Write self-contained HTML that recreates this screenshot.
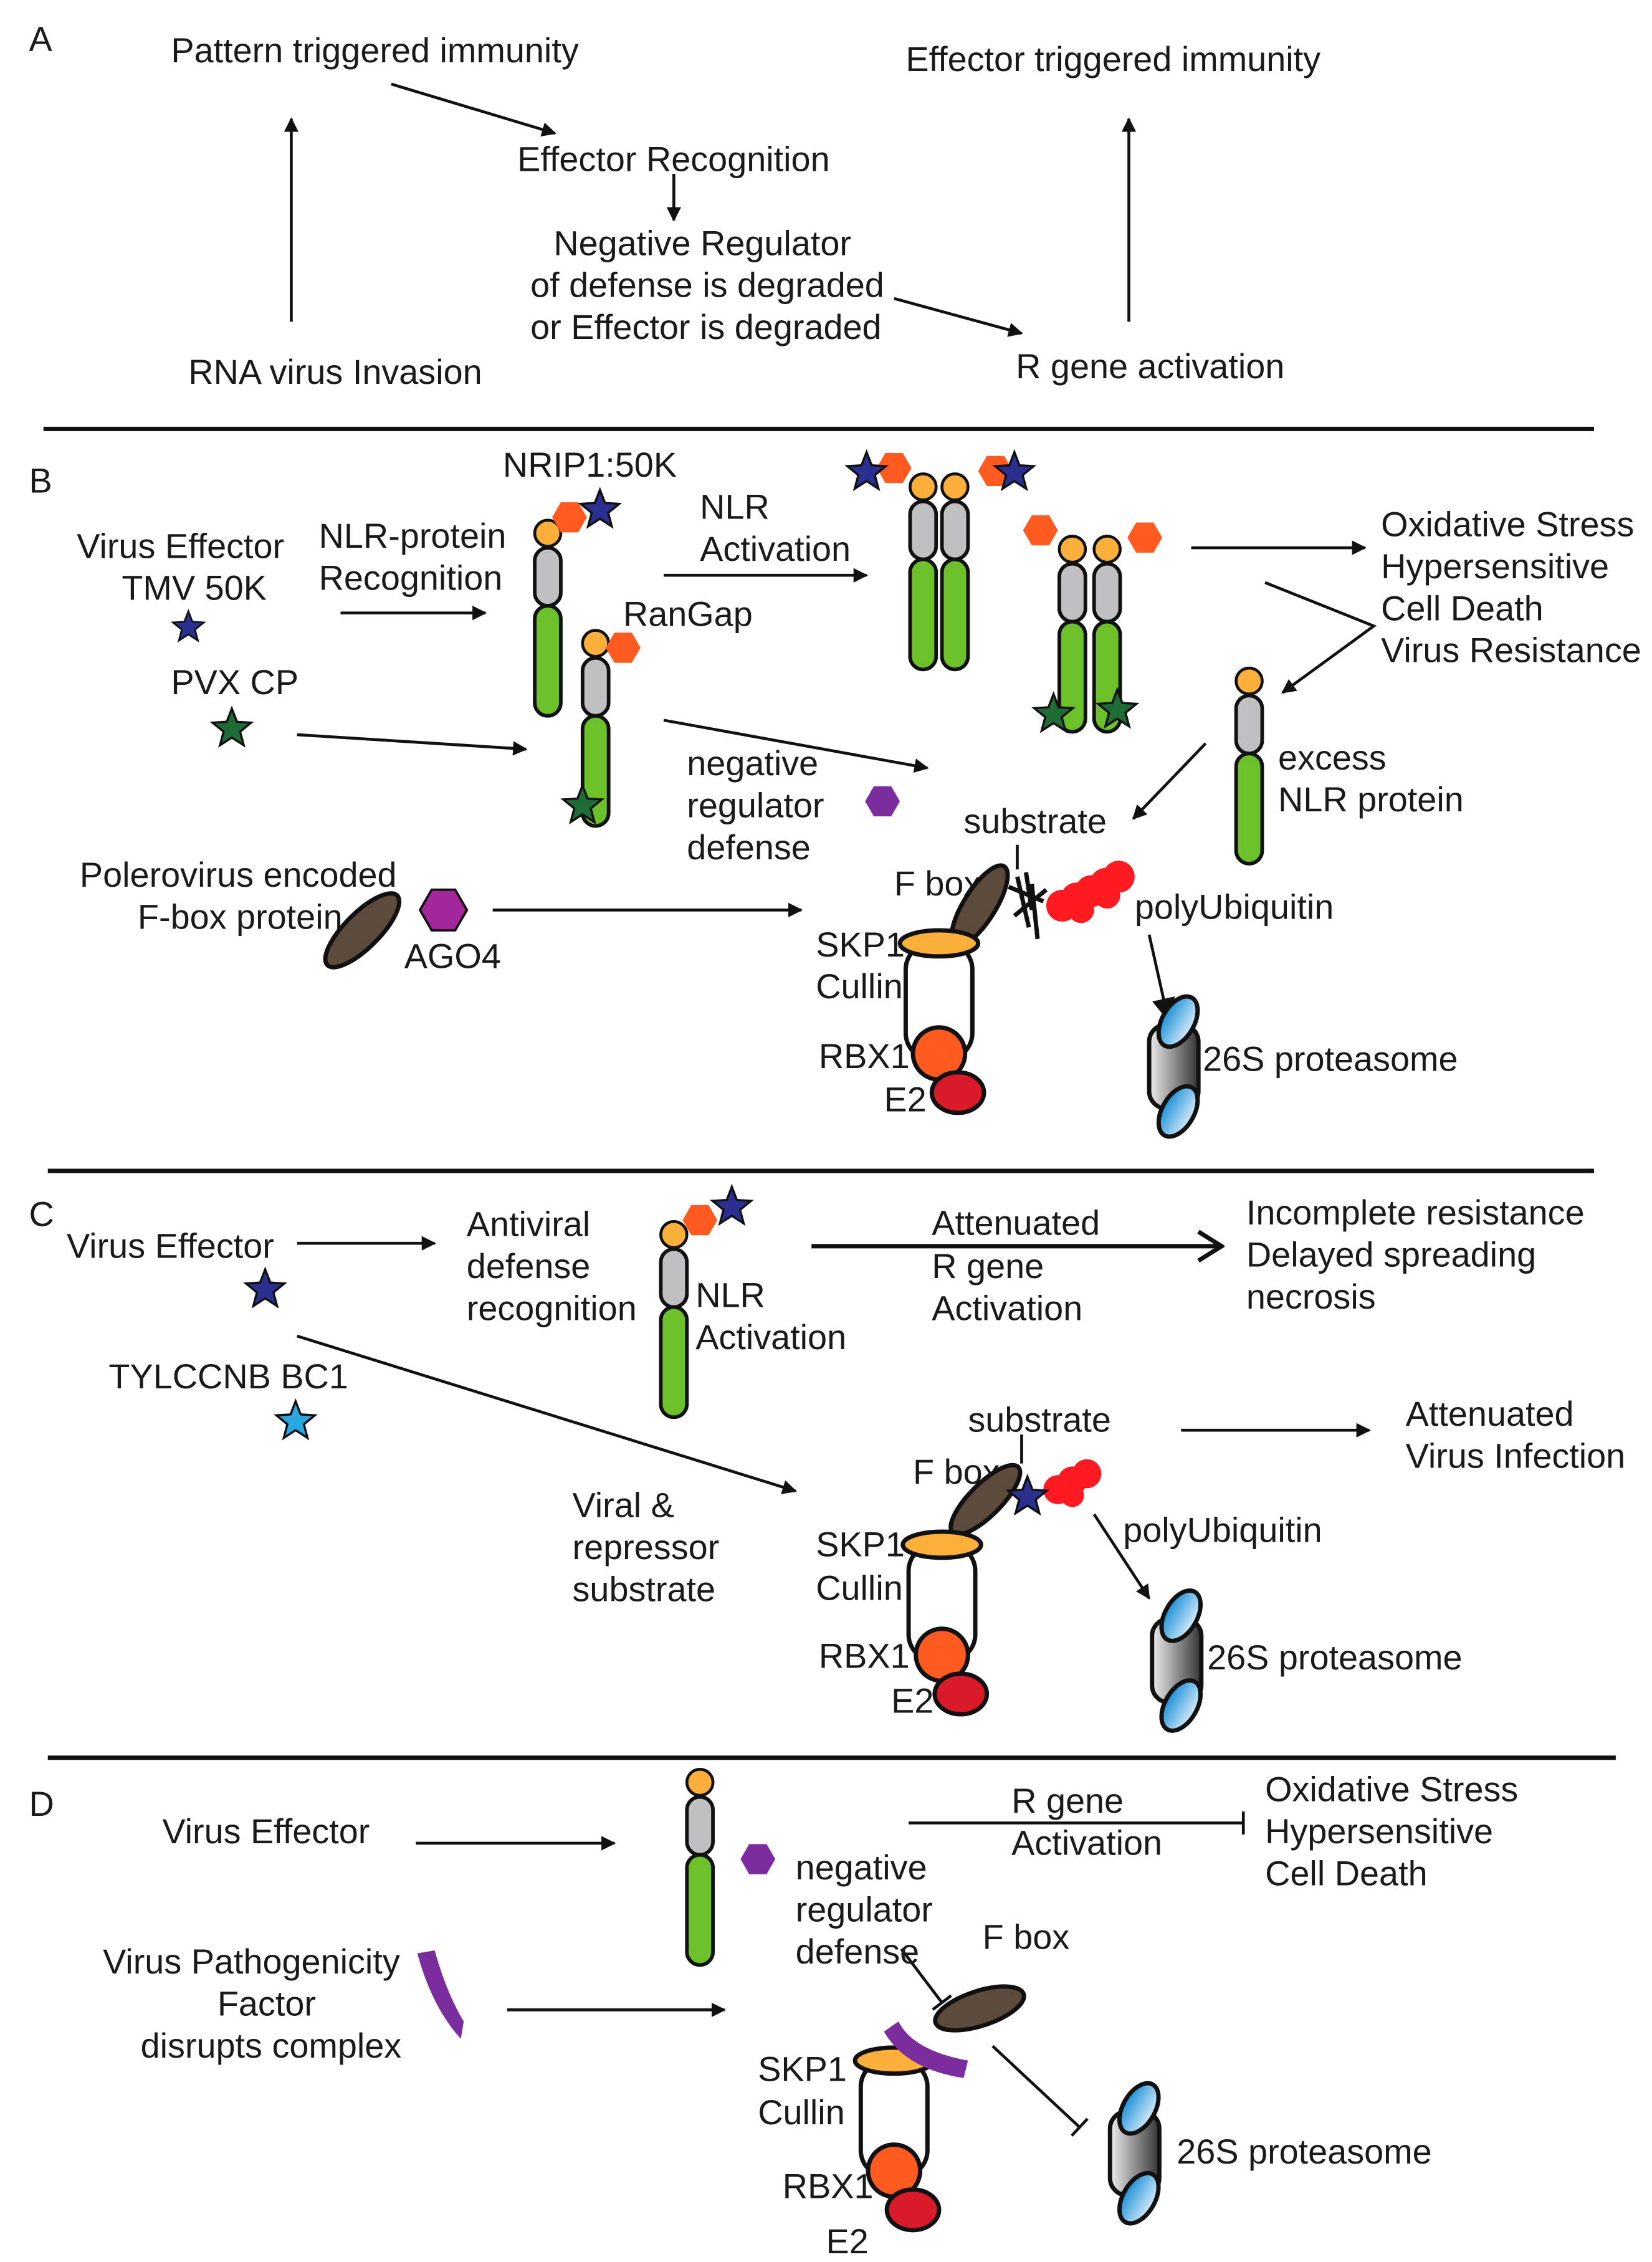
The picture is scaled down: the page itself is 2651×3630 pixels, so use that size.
<!DOCTYPE html>
<html><head><meta charset="utf-8">
<style>
html,body{margin:0;padding:0;background:#fff;}
svg{display:block;}
text{font-family:"Liberation Sans",sans-serif;font-size:24px;fill:#1a1a1a;}
</style></head>
<body>
<svg width="2651" height="3630" viewBox="0 0 1140 1561" xmlns="http://www.w3.org/2000/svg">
<defs>
<marker id="ah" markerWidth="10" markerHeight="10" refX="9" refY="5" orient="auto" markerUnits="userSpaceOnUse" viewBox="0 0 10 10">
<path d="M0,0 L10,5 L0,10 z" fill="#111"/></marker>
<marker id="ahb" markerWidth="16" markerHeight="16" refX="14" refY="8" orient="auto" markerUnits="userSpaceOnUse" viewBox="0 0 16 16">
<path d="M0,0 L16,8 L0,16 z" fill="#111"/></marker>
<marker id="open" markerWidth="20" markerHeight="24" refX="18" refY="12" orient="auto" markerUnits="userSpaceOnUse" viewBox="0 0 20 24">
<path d="M2,2 L18,12 L2,22" fill="none" stroke="#111" stroke-width="3"/></marker>
<marker id="tbar" markerWidth="4" markerHeight="16" refX="2" refY="8" orient="auto" markerUnits="userSpaceOnUse" viewBox="0 0 4 16">
<path d="M2,0 L2,16" stroke="#111" stroke-width="2"/></marker>
<linearGradient id="pg" x1="0" x2="1"><stop offset="0" stop-color="#eee"/><stop offset="1" stop-color="#333"/></linearGradient>
<linearGradient id="bg" x1="0" x2="1"><stop offset="0" stop-color="#1a8fd6"/><stop offset="1" stop-color="#d8ecfa"/></linearGradient>
<path id="star" d="M0,-14 L3.5,-4.9 L13.3,-4.3 L5.7,1.9 L8.2,11.3 L0,6 L-8.2,11.3 L-5.7,1.9 L-13.3,-4.3 L-3.5,-4.9 Z" stroke="#111" stroke-width="1.5"/>
<path id="hex" d="M12,0 L6,10.4 L-6,10.4 L-12,0 L-6,-10.4 L6,-10.4 Z"/>
<g id="nlr">
<rect x="-9" y="12" width="18" height="40" rx="9" fill="#c0c0c2" stroke="#111" stroke-width="2.5"/>
<rect x="-9" y="52" width="18" height="76" rx="9" fill="#6cc12a" stroke="#111" stroke-width="2.5"/>
<circle cx="0" cy="2" r="9" fill="#fbb03b" stroke="#111" stroke-width="2"/>
</g>
<g id="prot">
<rect x="-17" y="-28" width="34" height="58" rx="12" fill="url(#pg)" stroke="#111" stroke-width="3"/>
<ellipse cx="3" cy="-30" rx="11" ry="19" transform="rotate(30 3 -30)" fill="url(#bg)" stroke="#111" stroke-width="3"/>
<ellipse cx="3" cy="32" rx="11" ry="19" transform="rotate(30 3 32)" fill="url(#bg)" stroke="#111" stroke-width="3"/>
</g>
<g id="scf">
<rect x="-23" y="0" width="46" height="80" rx="18" fill="#fff" stroke="#111" stroke-width="3"/>
<ellipse cx="0" cy="0" rx="27" ry="9" fill="#fbb03b" stroke="#111" stroke-width="3"/>
<circle cx="0" cy="76" r="18" fill="#ff5a1f" stroke="#111" stroke-width="3"/>
<ellipse cx="13" cy="103" rx="18" ry="14" fill="#d91a2a" stroke="#111" stroke-width="3"/>
</g>
</defs>

<g stroke="#111" stroke-width="2" fill="none">
<line x1="201" y1="222" x2="201" y2="82" marker-end="url(#ah)"/>
<line x1="270" y1="58" x2="383" y2="92" marker-end="url(#ah)"/>
<line x1="465" y1="120" x2="465" y2="152" marker-end="url(#ah)"/>
<line x1="617" y1="206" x2="705" y2="230" marker-end="url(#ah)"/>
<line x1="779" y1="222" x2="779" y2="82" marker-end="url(#ah)"/>
<line x1="235" y1="423" x2="335" y2="423" marker-end="url(#ah)"/>
<line x1="458" y1="397" x2="598" y2="397" marker-end="url(#ah)"/>
<line x1="205" y1="507" x2="363" y2="517" marker-end="url(#ah)"/>
<line x1="458" y1="497" x2="640" y2="530" marker-end="url(#ah)"/>
<line x1="822" y1="378" x2="942" y2="378" marker-end="url(#ah)"/>
<polyline points="873,402 948,432 885,478" marker-end="url(#ah)"/>
<line x1="832" y1="513" x2="782" y2="565" marker-end="url(#ah)"/>
<line x1="702" y1="583" x2="702" y2="600"/>
<line x1="793" y1="645" x2="806" y2="703" marker-end="url(#ahb)"/>
<line x1="340" y1="628" x2="553" y2="628" marker-end="url(#ah)"/>
<line x1="205" y1="858" x2="300" y2="858" marker-end="url(#ah)"/>
<line x1="560" y1="860" x2="843" y2="860" stroke-width="3" marker-end="url(#open)"/>
<line x1="205" y1="922" x2="549" y2="1029" marker-end="url(#ah)"/>
<line x1="705" y1="990" x2="705" y2="1010"/>
<line x1="815" y1="987" x2="945" y2="987" marker-end="url(#ah)"/>
<line x1="755" y1="1045" x2="793" y2="1103" marker-end="url(#ah)"/>
<line x1="287" y1="1272" x2="424" y2="1272" marker-end="url(#ah)"/>
<line x1="627" y1="1258" x2="858" y2="1258" marker-end="url(#tbar)"/>
<line x1="350" y1="1387" x2="500" y2="1387" marker-end="url(#ah)"/>
<line x1="622" y1="1345" x2="650" y2="1382" marker-end="url(#tbar)"/>
<line x1="685" y1="1412" x2="745" y2="1468" marker-end="url(#tbar)"/>
</g>
<g stroke="#111" stroke-width="3">
<line x1="30" y1="296" x2="1100" y2="296"/>
<line x1="33" y1="808" x2="1100" y2="808"/>
<line x1="33" y1="1213" x2="1115" y2="1213"/>
</g>

<text x="20" y="35">A</text>
<text x="118" y="43">Pattern triggered immunity</text>
<text x="625" y="49">Effector triggered immunity</text>
<text x="130" y="265">RNA virus Invasion</text>
<text x="357" y="118">Effector Recognition</text>
<text x="382" y="176">Negative Regulator</text>
<text x="366" y="205">of defense is degraded</text>
<text x="366" y="234">or Effector is degraded</text>
<text x="701" y="261">R gene activation</text>

<text x="20" y="340">B</text>
<text x="347" y="329">NRIP1:50K</text>
<text x="53" y="385">Virus Effector</text>
<text x="84" y="414">TMV  50K</text>
<g transform="translate(130 433) scale(0.8)"><use href="#star" fill="#2b2f8f"/></g>
<text x="220" y="378">NLR-protein</text>
<text x="220" y="407">Recognition</text>
<use href="#nlr" x="378" y="366"/>
<use href="#hex" x="393" y="357" fill="#ff5a1f"/>
<use href="#star" x="414" y="352" fill="#2b2f8f"/>
<text x="483" y="358">NLR</text>
<text x="483" y="387">Activation</text>
<text x="430" y="432">RanGap</text>
<use href="#nlr" x="411" y="442"/>
<use href="#hex" x="430" y="447" fill="#ff5a1f"/>
<use href="#star" x="402" y="556" fill="#1e6b35"/>
<text x="118" y="479">PVX CP</text>
<use href="#star" x="160" y="503" fill="#1e6b35"/>
<text x="474" y="535">negative</text>
<text x="474" y="564">regulator</text>
<text x="474" y="593">defense</text>
<use href="#hex" x="609" y="553" fill="#7b2d9e"/>
<use href="#nlr" x="637" y="334"/>
<use href="#nlr" x="659" y="334"/>
<use href="#hex" x="617" y="323" fill="#ff5a1f"/>
<use href="#star" x="598" y="326" fill="#2b2f8f"/>
<use href="#hex" x="687" y="325" fill="#ff5a1f"/>
<use href="#star" x="700" y="326" fill="#2b2f8f"/>
<use href="#nlr" x="740" y="377"/>
<use href="#nlr" x="764" y="377"/>
<use href="#hex" x="718" y="366" fill="#ff5a1f"/>
<use href="#hex" x="790" y="371" fill="#ff5a1f"/>
<use href="#star" x="727" y="493" fill="#1e6b35"/>
<use href="#star" x="771" y="490" fill="#1e6b35"/>
<text x="953" y="370">Oxidative Stress</text>
<text x="953" y="399">Hypersensitive</text>
<text x="953" y="428">Cell Death</text>
<text x="953" y="457">Virus Resistance</text>
<use href="#nlr" x="862" y="468"/>
<text x="882" y="531">excess</text>
<text x="882" y="560">NLR protein</text>
<text x="665" y="575">substrate</text>
<text x="617" y="618">F box</text>
<g stroke="#111" stroke-width="3" fill="none">
<path d="M702,605 L710,640 M708,602 L712,628 M696,612 L720,622 M700,632 L722,614 M712,610 L716,648"/>
</g>
<g fill="#ff1a22">
<circle cx="733" cy="625" r="11"/><circle cx="743" cy="620" r="11"/><circle cx="753" cy="615" r="11"/><circle cx="763" cy="610" r="11"/><circle cx="772" cy="605" r="11"/><circle cx="746" cy="628" r="9"/><circle cx="764" cy="618" r="9"/>
</g>
<ellipse cx="676" cy="625" rx="11" ry="32" transform="rotate(32 676 625)" fill="#5c4a3c" stroke="#111" stroke-width="3"/>
<use href="#scf" x="648" y="651"/>
<text x="563" y="660">SKP1</text>
<text x="563" y="689">Cullin</text>
<text x="565" y="737">RBX1</text>
<text x="610" y="767">E2</text>
<use href="#prot" x="810" y="735"/>
<text x="830" y="739">26S proteasome</text>
<text x="55" y="612">Polerovirus encoded</text>
<text x="95" y="641">F-box protein</text>
<ellipse cx="250" cy="642" rx="12" ry="34" transform="rotate(45 250 642)" fill="#5c4a3c" stroke="#111" stroke-width="3"/>
<g transform="translate(306 628) scale(1.35)"><use href="#hex" fill="#a3279a" stroke="#111" stroke-width="1.2"/></g>
<text x="279" y="668">AGO4</text>
<text x="783" y="634">polyUbiquitin</text>

<text x="20" y="846">C</text>
<text x="46" y="868">Virus Effector</text>
<use href="#star" x="183" y="890" fill="#2b2f8f"/>
<text x="322" y="853">Antiviral</text>
<text x="322" y="882">defense</text>
<text x="322" y="911">recognition</text>
<use href="#nlr" x="465" y="850"/>
<use href="#hex" x="483" y="842" fill="#ff5a1f"/>
<use href="#star" x="505" y="833" fill="#2b2f8f"/>
<text x="480" y="902">NLR</text>
<text x="480" y="931">Activation</text>
<text x="643" y="852">Attenuated</text>
<text x="643" y="882">R gene</text>
<text x="643" y="911">Activation</text>
<text x="860" y="845">Incomplete resistance</text>
<text x="860" y="874">Delayed spreading</text>
<text x="860" y="903">necrosis</text>
<text x="75" y="958">TYLCCNB BC1</text>
<use href="#star" x="204" y="981" fill="#29a8e0"/>
<text x="395" y="1047">Viral &amp;</text>
<text x="395" y="1076">repressor</text>
<text x="395" y="1105">substrate</text>
<text x="668" y="988">substrate</text>
<text x="630" y="1024">F box</text>
<g fill="#ff1a22">
<circle cx="730" cy="1028" r="10"/><circle cx="740" cy="1022" r="10"/><circle cx="750" cy="1017" r="10"/><circle cx="740" cy="1032" r="8"/>
</g>
<ellipse cx="680" cy="1035" rx="11" ry="32" transform="rotate(45 680 1035)" fill="#5c4a3c" stroke="#111" stroke-width="3"/>
<use href="#star" x="709" y="1033" fill="#2b2f8f"/>
<use href="#scf" x="650" y="1066"/>
<text x="563" y="1074">SKP1</text>
<text x="563" y="1104">Cullin</text>
<text x="565" y="1151">RBX1</text>
<text x="615" y="1182">E2</text>
<text x="970" y="984">Attenuated</text>
<text x="970" y="1013">Virus Infection</text>
<text x="775" y="1064">polyUbiquitin</text>
<use href="#prot" x="812" y="1145"/>
<text x="833" y="1152">26S proteasome</text>

<text x="20" y="1253">D</text>
<text x="112" y="1272">Virus Effector</text>
<use href="#nlr" x="483" y="1228"/>
<use href="#hex" x="523" y="1283" fill="#7b2d9e"/>
<text x="549" y="1297">negative</text>
<text x="549" y="1326">regulator</text>
<text x="549" y="1355">defense</text>
<text x="698" y="1251">R gene</text>
<text x="698" y="1280">Activation</text>
<text x="873" y="1243">Oxidative Stress</text>
<text x="873" y="1272">Hypersensitive</text>
<text x="873" y="1301">Cell Death</text>
<text x="71" y="1362">Virus Pathogenicity</text>
<text x="150" y="1391">Factor</text>
<text x="97" y="1420">disrupts complex</text>
<path d="M288,1348 L300,1346 Q308,1375 320,1395 L318,1407 Q298,1385 288,1348 Z" fill="#7b2d9e"/>
<text x="678" y="1345">F box</text>
<ellipse cx="676" cy="1386" rx="12" ry="32" transform="rotate(72 676 1386)" fill="#5c4a3c" stroke="#111" stroke-width="3"/>
<use href="#scf" x="617" y="1422"/>
<path d="M620,1395 Q630,1415 668,1422 L665,1434 Q625,1428 610,1402 Z" fill="#7b2d9e"/>
<text x="523" y="1436">SKP1</text>
<text x="523" y="1466">Cullin</text>
<text x="540" y="1517">RBX1</text>
<text x="570" y="1555">E2</text>
<use href="#prot" x="783" y="1485"/>
<text x="812" y="1493">26S proteasome</text>
</svg>
</body></html>
